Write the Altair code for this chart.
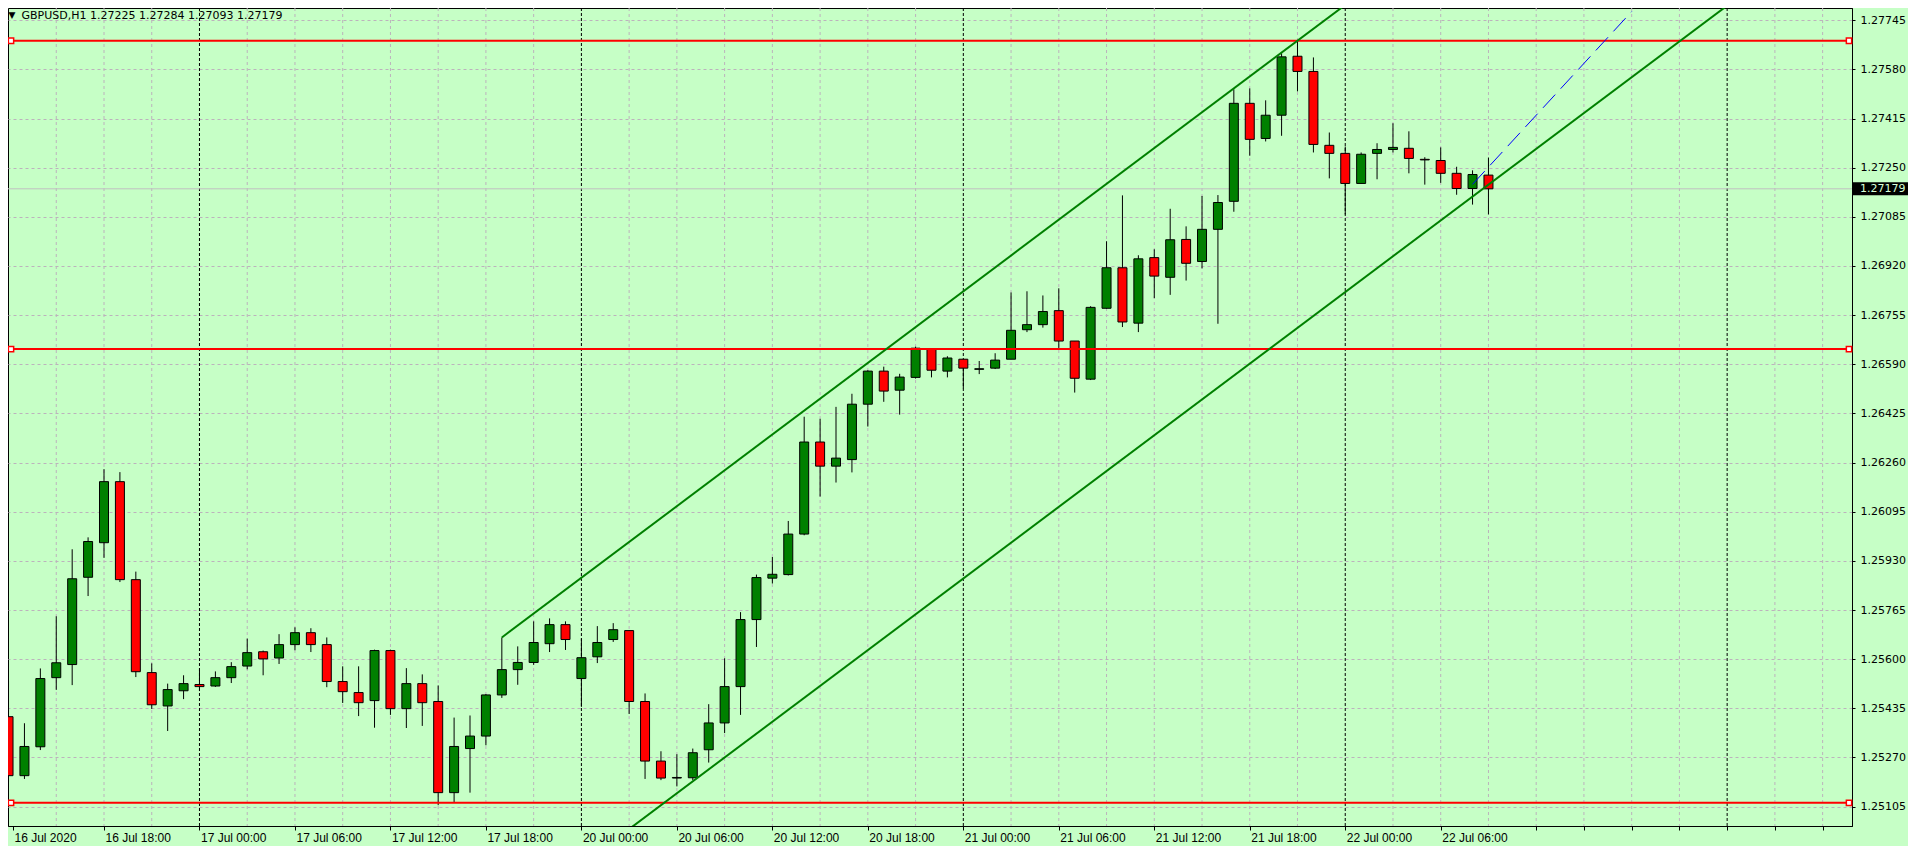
import json
import altair as alt
import pandas as pd

# ---------------- data ----------------
title_text = "GBPUSD,H1  1.27225 1.27284 1.27093 1.27179"

# H1 bars from 16 Jul 12:00 (index 0) to 22 Jul 09:00 (index 93)
bar_open = [1.25407, 1.25209, 1.25306, 1.25538, 1.25582, 1.25875, 1.25991, 1.26196, 1.25867, 1.25555,
            1.25443, 1.25494, 1.25515, 1.25510, 1.25538, 1.25577, 1.25625, 1.25604, 1.25649, 1.25689,
            1.25649, 1.25525, 1.25488, 1.25461, 1.25629, 1.25434, 1.25518, 1.25458, 1.25152, 1.25300,
            1.25342, 1.25480, 1.25565, 1.25589, 1.25652, 1.25716, 1.25535, 1.25608, 1.25666, 1.25696,
            1.25458, 1.25258, 1.25201, 1.25202, 1.25296, 1.25386, 1.25508, 1.25733, 1.25872, 1.25884,
            1.26020, 1.26329, 1.26248, 1.26270, 1.26456, 1.26567, 1.26503, 1.26546, 1.26641, 1.26567,
            1.26607, 1.26573, 1.26577, 1.26607, 1.26706, 1.26723, 1.26770, 1.26668, 1.26540, 1.26778,
            1.26914, 1.26728, 1.26948, 1.26882, 1.27009, 1.26935, 1.27043, 1.27137, 1.27466, 1.27348,
            1.27426, 1.27624, 1.27573, 1.27325, 1.27298, 1.27197, 1.27298, 1.27311, 1.27315, 1.27278,
            1.27274, 1.27231, 1.27180, 1.27225]
bar_high = [1.25527, 1.25385, 1.25569, 1.25744, 1.25969, 1.26009, 1.26238, 1.26228, 1.25894, 1.25586,
            1.25518, 1.25546, 1.25569, 1.25559, 1.25590, 1.25669, 1.25629, 1.25684, 1.25707, 1.25704,
            1.25673, 1.25576, 1.25576, 1.25632, 1.25632, 1.25570, 1.25549, 1.25512, 1.25404, 1.25411,
            1.25483, 1.25673, 1.25643, 1.25727, 1.25737, 1.25727, 1.25669, 1.25711, 1.25721, 1.25696,
            1.25485, 1.25291, 1.25281, 1.25300, 1.25449, 1.25603, 1.25758, 1.25884, 1.25943, 1.26064,
            1.26414, 1.26407, 1.26447, 1.26491, 1.26570, 1.26582, 1.26558, 1.26649, 1.26641, 1.26617,
            1.26607, 1.26601, 1.26627, 1.26831, 1.26835, 1.26821, 1.26845, 1.26668, 1.26785, 1.27003,
            1.27157, 1.26956, 1.26976, 1.27112, 1.27053, 1.27155, 1.27158, 1.27513, 1.27516, 1.27476,
            1.27634, 1.27676, 1.27620, 1.27368, 1.27321, 1.27301, 1.27332, 1.27399, 1.27372, 1.27285,
            1.27318, 1.27253, 1.27241, 1.27284]
bar_low = [1.25188, 1.25198, 1.25295, 1.25497, 1.25513, 1.25812, 1.25940, 1.25859, 1.25540, 1.25433,
           1.25359, 1.25466, 1.25493, 1.25507, 1.25520, 1.25566, 1.25546, 1.25584, 1.25630, 1.25624,
           1.25506, 1.25453, 1.25409, 1.25370, 1.25413, 1.25369, 1.25376, 1.25110, 1.25120, 1.25152,
           1.25311, 1.25470, 1.25514, 1.25581, 1.25624, 1.25631, 1.25440, 1.25587, 1.25658, 1.25416,
           1.25198, 1.25194, 1.25173, 1.25194, 1.25253, 1.25352, 1.25413, 1.25641, 1.25854, 1.25881,
           1.26016, 1.26146, 1.26193, 1.26227, 1.26381, 1.26464, 1.26421, 1.26542, 1.26546, 1.26546,
           1.26509, 1.26557, 1.26574, 1.26607, 1.26698, 1.26713, 1.26644, 1.26495, 1.26537, 1.26777,
           1.26715, 1.26698, 1.26812, 1.26823, 1.26871, 1.26912, 1.26726, 1.27102, 1.27290, 1.27338,
           1.27357, 1.27506, 1.27301, 1.27214, 1.27093, 1.27197, 1.27211, 1.27301, 1.27231, 1.27193,
           1.27199, 1.27159, 1.27126, 1.27093]
bar_close = [1.25209, 1.25307, 1.25535, 1.25588, 1.25870, 1.25995, 1.26196, 1.25867, 1.25558, 1.25447,
             1.25498, 1.25518, 1.25508, 1.25538, 1.25575, 1.25622, 1.25601, 1.25649, 1.25689, 1.25649,
             1.25525, 1.25491, 1.25454, 1.25629, 1.25434, 1.25518, 1.25454, 1.25152, 1.25307, 1.25342,
             1.25480, 1.25565, 1.25589, 1.25656, 1.25716, 1.25666, 1.25605, 1.25656, 1.25699, 1.25458,
             1.25258, 1.25201, 1.25203, 1.25286, 1.25386, 1.25508, 1.25733, 1.25874, 1.25885, 1.26020,
             1.26329, 1.26248, 1.26275, 1.26456, 1.26567, 1.26500, 1.26547, 1.26644, 1.26570, 1.26611,
             1.26577, 1.26575, 1.26604, 1.26704, 1.26723, 1.26767, 1.26668, 1.26543, 1.26781, 1.26914,
             1.26732, 1.26944, 1.26886, 1.27008, 1.26929, 1.27043, 1.27133, 1.27466, 1.27345, 1.27426,
             1.27622, 1.27573, 1.27328, 1.27298, 1.27197, 1.27295, 1.27311, 1.27318, 1.27281, 1.27276,
             1.27231, 1.27180, 1.27227, 1.27179]

# time axis (bar index -> label)
time_tick_bars = [6, 12, 18, 24, 30, 36, 42, 48, 54, 60, 66, 72, 78, 84, 90]
time_tick_labels = ["16 Jul 2020", "16 Jul 18:00", "17 Jul 00:00", "17 Jul 06:00", "17 Jul 12:00",
                    "17 Jul 18:00", "20 Jul 00:00", "20 Jul 06:00", "20 Jul 12:00", "20 Jul 18:00",
                    "21 Jul 00:00", "21 Jul 06:00", "21 Jul 12:00", "21 Jul 18:00", "22 Jul 00:00",
                    "22 Jul 06:00"]
future_tick_bars = [96, 99, 102, 105, 108, 111, 114]
day_separator_bars = [12, 36, 60, 84, 108]

price_ticks = [1.25105, 1.25270, 1.25435, 1.25600, 1.25765, 1.25930, 1.26095, 1.26260, 1.26425,
               1.26590, 1.26755, 1.26920, 1.27085, 1.27250, 1.27415, 1.27580, 1.27745]

# drawn objects
red_levels = [1.27676, 1.26641, 1.25118]
current_price = 1.27179
channel_anchor_bars = [31, 81]
channel_anchor_prices = [1.25673, 1.27676]
channel_third_bar = 43
channel_third_price = 1.25190
channel_end_bar = 120
forecast_bars = [92, 102]
forecast_prices = [1.27194, 1.27774]

# ---------------- styling / layout ----------------
W, H = 1844, 818
BG = "#C6FFC6"
GRID = "#BCB2BC"
GREEN = "#008000"
RED = "#FF0000"
x_domain = [0.28125, 115.53125]
y_domain = [1.2504005, 1.2778595]

xscale = alt.Scale(domain=x_domain, nice=False, zero=False)
yscale = alt.Scale(domain=y_domain, nice=False, zero=False)

# ---------------- tables ----------------
candles = pd.DataFrame({
    "i": list(range(len(bar_open))),
    "o": bar_open, "h": bar_high, "l": bar_low, "c": bar_close,
})
candles["dir"] = ["up" if c >= o else "down" for o, c in zip(bar_open, bar_close)]

vgrid = pd.DataFrame({"i": [b for b in range(3, 115, 3) if b not in day_separator_bars]})
daysep = pd.DataFrame({"i": day_separator_bars})
levels = pd.DataFrame({"p": red_levels})
cur = pd.DataFrame({"p": [current_price], "label": [f"{current_price:.5f}"],
                    "top": [current_price + 0.00022], "bot": [current_price - 0.00022]})

slope = (channel_anchor_prices[1] - channel_anchor_prices[0]) / (channel_anchor_bars[1] - channel_anchor_bars[0])
upper_at_third = channel_anchor_prices[0] + slope * (channel_third_bar - channel_anchor_bars[0])
shift = channel_third_price - upper_at_third
b0 = channel_anchor_bars[0]
p0 = channel_anchor_prices[0]
chan_rows = []
for name, off in (("upper", 0.0), ("lower", shift)):
    for b in (b0, channel_end_bar):
        chan_rows.append({"line": name, "i": b, "p": p0 + slope * (b - b0) + off})
channel = pd.DataFrame(chan_rows)
forecast = pd.DataFrame({"i": forecast_bars, "p": forecast_prices})

# ---------------- axes (identical objects in every layer so they merge) ----------------
label_js = json.dumps(time_tick_labels)
x_axis = alt.Axis(
    values=[x_domain[0]] + time_tick_bars + future_tick_bars,
    labelExpr=f"datum.value > 91 ? '' : {label_js}[round(datum.value / 6)]",
    orient="bottom", title=None, grid=False,
    domainColor="black", domainWidth=1, tickColor="black", tickSize=4, tickWidth=1,
    labelColor="black", labelFont="Liberation Sans", labelFontSize=12,
    labelAlign="left", labelBaseline="top", labelPadding=2, labelOffset=1,
    labelFlush=False, labelOverlap=False,
)
y_axis = alt.Axis(
    values=price_ticks, format=".5f", orient="right", title=None,
    grid=True, gridColor=GRID, gridDash=[3, 3], gridWidth=1,
    domainColor="black", domainWidth=1, tickColor="black", tickSize=3,
    labelPadding=5, labelFont="DejaVu Sans", labelFontSize=11, labelColor="black",
    labelOverlap=False, labelFlush=False,
)


def X(f="i:Q"):
    return alt.X(f, scale=xscale, axis=x_axis)


def Y(f):
    return alt.Y(f, scale=yscale, axis=y_axis)


# ---------------- layers ----------------
l_vgrid = alt.Chart(vgrid).mark_rule(color=GRID, strokeDash=[3, 3], strokeWidth=1).encode(x=X())
l_days = alt.Chart(daysep).mark_rule(color="black", strokeDash=[3, 2], strokeWidth=1).encode(x=X())
l_cur = alt.Chart(cur).mark_rule(color="#C0C0C0", strokeWidth=1).encode(y=Y("p:Q"))
l_wick = alt.Chart(candles).mark_rule(color="black", strokeWidth=1, clip=True).encode(
    x=X(), y=Y("l:Q"), y2="h:Q")
l_body = alt.Chart(candles).mark_bar(width=9, stroke="black", strokeWidth=1, clip=True, opacity=1).encode(
    x=X(), y=Y("o:Q"), y2="c:Q",
    color=alt.Color("dir:N", scale=alt.Scale(domain=["up", "down"], range=[GREEN, RED]), legend=None))
l_levels = alt.Chart(levels).mark_rule(color=RED, strokeWidth=2).encode(y=Y("p:Q"))
l_chan = alt.Chart(channel).mark_line(color=GREEN, strokeWidth=2, clip=True).encode(
    x=X(), y=Y("p:Q"), detail="line:N")
l_fore = alt.Chart(forecast).mark_line(color="#0000FF", strokeWidth=1, strokeDash=[18, 8], clip=True).encode(
    x=X(), y=Y("p:Q"))
l_sq_left = alt.Chart(levels).mark_square(size=28, filled=True, fill="#FFFFFF", stroke=RED,
                                          strokeWidth=1.5, opacity=1).encode(x=alt.value(3), y=Y("p:Q"))
l_sq_right = alt.Chart(levels).mark_square(size=28, filled=True, fill="#FFFFFF", stroke=RED,
                                           strokeWidth=1.5, opacity=1).encode(x=alt.value(W - 3), y=Y("p:Q"))
l_box = alt.Chart(cur).mark_rect(color="black").encode(
    x=alt.value(W + 1), x2=alt.value(W + 56), y=Y("top:Q"), y2="bot:Q")
l_box_text = alt.Chart(cur).mark_text(align="left", baseline="middle", font="DejaVu Sans",
                                      fontSize=11, color="#D8FFD8").encode(
    x=alt.value(W + 8), y=Y("p:Q"), text="label:N")
l_tri = alt.Chart(pd.DataFrame({"t": ["\u25BC"]})).mark_text(
    align="center", baseline="middle", font="DejaVu Sans", fontSize=9, color="black").encode(
    x=alt.value(4), y=alt.value(7), text="t:N")
l_title = alt.Chart(pd.DataFrame({"t": [title_text]})).mark_text(
    align="left", baseline="middle", font="DejaVu Sans", fontSize=11, color="black").encode(
    x=alt.value(13.5), y=alt.value(7.5), text="t:N")

chart = alt.layer(
    l_vgrid, l_days, l_cur, l_wick, l_body, l_levels, l_chan, l_fore,
    l_sq_left, l_sq_right, l_box, l_box_text, l_tri, l_title,
).properties(
    width=W, height=H,
    autosize=alt.AutoSizeParams(type="none"),
    padding={"left": 0, "top": 0, "right": 56, "bottom": 20},
).configure(
    background=BG,
).configure_view(
    stroke="black", strokeWidth=1,
)

chart.save("out.html", embed_options={"renderer": "svg", "actions": False})
